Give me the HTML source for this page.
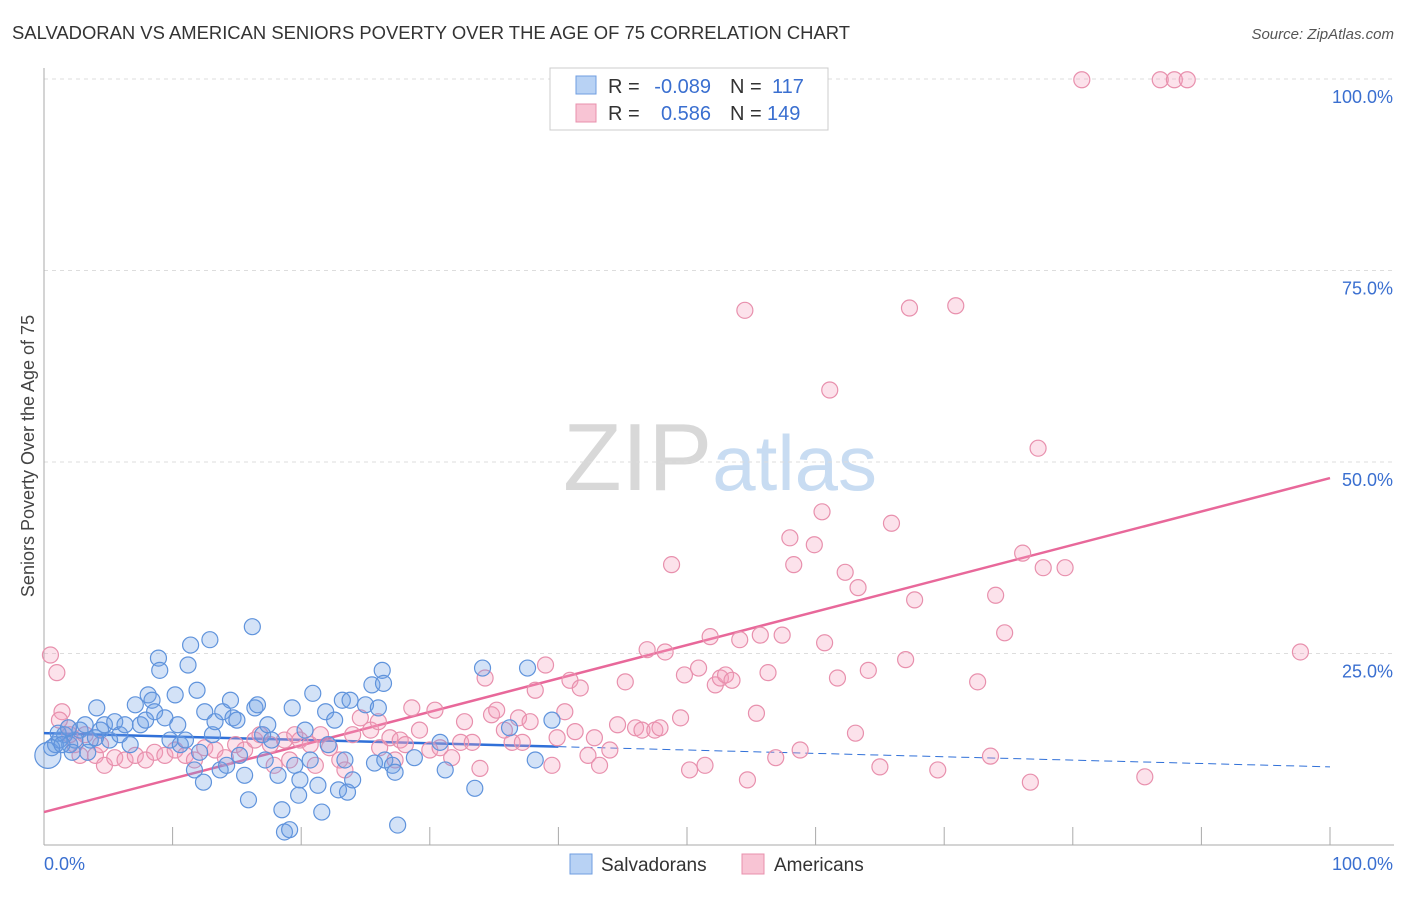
<!DOCTYPE html>
<html><head><meta charset="utf-8"><style>
body{margin:0;background:#fff;font-family:"Liberation Sans",sans-serif;}
svg text{font-family:"Liberation Sans",sans-serif;}
</style></head><body>
<svg id="chart" width="1406" height="892" xmlns="http://www.w3.org/2000/svg">
<text x="12" y="39" font-size="18" fill="#333" textLength="838" lengthAdjust="spacingAndGlyphs">SALVADORAN VS AMERICAN SENIORS POVERTY OVER THE AGE OF 75 CORRELATION CHART</text>
<text x="1394" y="39" font-size="15" fill="#555" text-anchor="end" font-style="italic">Source: ZipAtlas.com</text>
<text transform="translate(34,456) rotate(-90)" font-size="18" fill="#444" text-anchor="middle">Seniors Poverty Over the Age of 75</text>
<text x="720" y="490" font-size="96" text-anchor="middle" fill="#ddd" font-family="Liberation Serif"><tspan fill="#d8d8d8">ZIP</tspan><tspan fill="#c8dcf2" font-family="Liberation Sans" font-size="78">atlas</tspan></text>
<g id="grid"></g>
<g id="axes"></g>
<g id="trend"></g>
<g id="points"></g>
<g>
<rect x="550" y="68" width="278" height="62" fill="#fff" stroke="#ccc"/>
<rect x="576" y="76" width="20" height="18" fill="#b8d2f4" stroke="#6f9ee0"/>
<text x="608" y="93" font-size="20" fill="#333">R =</text>
<text x="711" y="93" font-size="20" fill="#3a6fd0" text-anchor="end">-0.089</text>
<text x="730" y="93" font-size="20" fill="#333">N =</text>
<text x="772" y="93" font-size="20" fill="#3a6fd0">117</text>
<rect x="576" y="104" width="20" height="18" fill="#f8c4d4" stroke="#e890ad"/>
<text x="608" y="120" font-size="20" fill="#333">R =</text>
<text x="711" y="120" font-size="20" fill="#3a6fd0" text-anchor="end">0.586</text>
<text x="730" y="120" font-size="20" fill="#333">N =</text>
<text x="767" y="120" font-size="20" fill="#3a6fd0">149</text>
</g>
<g>
<rect x="570" y="854" width="22" height="20" fill="#b8d2f4" stroke="#6f9ee0"/>
<text x="601" y="871" font-size="19" fill="#333">Salvadorans</text>
<rect x="742" y="854" width="22" height="20" fill="#f8c4d4" stroke="#e890ad"/>
<text x="774" y="871" font-size="19" fill="#333">Americans</text>
</g>
</svg>
<script>
const yTicks=[25,50,75,100];
const yTickLabels=["25.0%","50.0%","75.0%","100.0%"];
const xEndLabels=["0.0%","100.0%"];
const blueX=[0.3,0.9,1.2,1.6,2.0,2.4,2.8,3.2,3.6,4.1,4.4,4.7,5.1,5.5,5.9,6.3,6.7,7.1,7.5,7.9,8.1,8.4,8.6,8.9,9.0,9.4,9.8,10.2,10.4,10.6,11.0,11.2,11.4,11.7,11.9,12.1,12.4,12.5,12.9,13.1,13.3,13.7,13.9,14.2,14.5,14.7,15.0,15.2,15.6,15.9,16.2,16.4,16.6,17.0,17.2,17.4,17.7,18.2,18.5,18.7,19.1,19.3,19.5,19.8,19.9,20.3,20.7,20.9,21.3,21.6,21.9,22.1,22.6,22.9,23.2,23.4,23.6,23.8,24.0,25.0,25.5,25.7,26.0,26.3,26.4,26.5,27.1,27.3,27.5,28.8,30.8,31.2,33.5,34.1,36.2,37.6,38.2,39.5,0.6,1.1,1.4,1.9,2.2,3.4,4.0];
const blueY=[11.7,13.1,13.7,14.4,13.1,13.7,15.0,15.7,13.7,17.9,15.0,15.7,13.7,16.1,14.4,15.7,13.1,18.3,15.7,16.3,19.6,18.9,17.4,24.4,22.8,16.6,13.7,19.6,15.7,13.1,13.7,23.5,26.1,9.8,20.2,12.1,8.2,17.4,26.8,14.4,16.1,9.8,17.4,10.4,18.9,16.6,16.3,11.7,9.1,5.9,28.5,17.9,18.3,14.4,11.1,15.7,13.7,9.1,4.6,1.7,2.0,17.9,10.4,6.5,8.5,15.0,11.1,19.8,7.8,4.3,17.4,13.1,16.3,7.2,18.9,11.1,6.9,18.9,8.5,18.3,20.9,10.7,17.9,22.8,21.1,11.1,10.4,9.5,2.6,11.4,13.4,9.8,7.4,23.1,15.3,23.1,11.1,16.3,12.7,14.6,13.1,15.3,12.1,12.1,14.0];
const pinkX=[0.5,1.0,1.4,1.9,2.4,3.2,4.0,4.7,5.5,6.3,7.1,7.9,8.6,9.4,10.2,11.0,11.7,12.5,13.3,14.1,14.9,15.6,16.4,16.8,17.6,17.9,18.7,19.1,19.5,19.9,20.7,21.1,21.5,22.2,23.0,23.4,24.0,24.6,25.4,26.0,26.1,26.9,27.3,27.7,28.1,28.6,29.2,30.0,30.4,30.8,31.7,32.4,32.7,33.3,33.9,34.3,34.8,35.2,35.8,36.4,36.9,37.2,37.8,38.2,39.0,39.5,39.9,40.5,40.9,41.3,41.7,42.3,42.8,43.2,44.0,44.6,45.2,46.0,46.5,46.9,47.5,47.9,48.3,48.8,49.5,49.8,50.2,50.9,51.4,51.8,52.2,52.6,53.0,53.5,54.1,54.5,54.7,55.4,55.7,56.3,56.9,57.4,58.0,58.3,58.8,59.9,60.5,60.7,61.1,61.7,62.3,63.1,63.3,64.1,65.0,65.9,67.0,67.3,67.7,69.5,70.9,72.6,73.6,74.0,74.7,76.1,76.7,77.3,77.7,79.4,80.7,85.6,86.8,87.9,88.9,97.7,1.2,2.0,2.8,4.4];
const pinkY=[24.8,22.5,17.4,15.3,13.1,14.4,11.7,10.4,11.4,11.1,11.7,11.1,12.1,11.7,12.4,11.7,11.1,12.7,12.4,11.4,13.1,12.4,13.7,14.4,13.1,10.4,13.7,11.1,14.4,13.7,13.1,10.4,14.4,12.7,11.1,9.8,14.4,16.6,15.0,16.1,12.7,14.0,11.1,13.7,13.1,17.9,15.0,12.4,17.6,12.7,11.4,13.4,16.1,13.4,10.0,21.8,17.0,17.6,15.0,13.4,16.6,13.4,16.1,20.2,23.5,10.4,14.0,17.4,21.5,14.8,20.5,11.7,14.0,10.4,12.4,15.7,21.3,15.3,15.0,25.5,15.0,15.3,25.2,36.6,16.6,22.2,9.8,23.1,10.4,27.2,20.9,21.8,22.2,21.5,26.8,69.8,8.5,17.2,27.4,22.5,11.4,27.4,40.1,36.6,12.4,39.2,43.5,26.4,59.4,21.8,35.6,14.6,33.6,22.8,10.2,42.0,24.2,70.1,32.0,9.8,70.4,21.3,11.6,32.6,27.7,38.1,8.2,51.8,36.2,36.2,99.9,8.9,99.9,99.9,99.9,25.2,16.3,14.4,11.7,13.1];
const blueTrend=[14.6,10.2];
const pinkTrend=[4.3,47.9];

const NS="http://www.w3.org/2000/svg";
const X0=44,X1=1330,Y0=845,Y100=79;
const sx=v=>X0+(X1-X0)*v/100;
const sy=v=>Y0-(Y0-Y100)*v/100;
function mk(tag,attrs,parent){const e=document.createElementNS(NS,tag);for(const k in attrs)e.setAttribute(k,attrs[k]);parent.appendChild(e);return e;}
const grid=document.getElementById('grid'),axes=document.getElementById('axes'),trend=document.getElementById('trend'),pts=document.getElementById('points');
yTicks.forEach((t,i)=>{
  const l=mk('line',{x1:X0,x2:1394,y1:sy(t),y2:sy(t),stroke:'#ddd','stroke-dasharray':'4,4'},grid);
  
  
  const tx=mk('text',{x:1393,y:sy(t)+24,'font-size':18,fill:'#3a6fd0','text-anchor':'end'},axes);
  tx.textContent=yTickLabels[i];
  
  
});
const ya=mk('line',{x1:X0,x2:X0,y1:68,y2:Y0,stroke:'#aaa'},axes);


const xa=mk('line',{x1:X0,x2:1394,y1:Y0,y2:Y0,stroke:'#aaa'},axes);


for(let i=1;i<=10;i++){
  const t=mk('line',{x1:sx(i*10),x2:sx(i*10),y1:Y0-18,y2:Y0,stroke:'#aaa'},axes);
  
  
}
const xl0=mk('text',{x:44,y:870,'font-size':18,fill:'#3a6fd0'},axes);xl0.textContent=xEndLabels[0];


const xl1=mk('text',{x:1393,y:870,'font-size':18,fill:'#3a6fd0','text-anchor':'end'},axes);xl1.textContent=xEndLabels[1];


pinkX.forEach((x,i)=>{
  const c=mk('circle',{cx:sx(x),cy:sy(pinkY[i]),r:8,fill:'rgba(244,160,190,0.3)',stroke:'#e890ad','stroke-width':1.2},pts);
  
  
});
blueX.forEach((x,i)=>{
  const c=mk('circle',{cx:sx(x),cy:sy(blueY[i]),r:i===0?13:8,fill:'rgba(110,160,230,0.3)',stroke:'#5f93dc','stroke-width':1.2},pts);
  
  
});
const bm=blueTrend[0]+(blueTrend[1]-blueTrend[0])*0.4;
const b1=mk('line',{x1:sx(0),y1:sy(blueTrend[0]),x2:sx(40),y2:sy(bm),stroke:'#3070d8','stroke-width':2.5},trend);


const b2=mk('line',{x1:sx(40),y1:sy(bm),x2:sx(100),y2:sy(blueTrend[1]),stroke:'#3070d8','stroke-width':1,'stroke-dasharray':'8,5'},trend);


const p1=mk('line',{x1:sx(0),y1:sy(pinkTrend[0]),x2:sx(100),y2:sy(pinkTrend[1]),stroke:'#e8689a','stroke-width':2.5},trend);


</script>
</body></html>
